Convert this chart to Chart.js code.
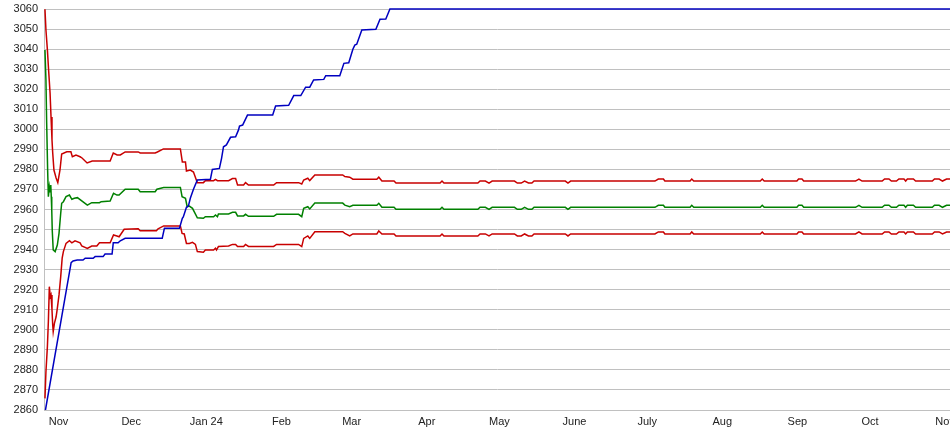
<!DOCTYPE html>
<html>
<head>
<meta charset="utf-8">
<script src="https://cdn.jsdelivr.net/npm/chart.js@4"></script>
<style>
body { margin: 0; background: #fff; overflow: hidden; }
#wrap { width: 950px; height: 435px; }
</style>
</head>
<body>
<div id="wrap"><canvas id="myChart"></canvas></div>
<script>
// x values are days counted from 26 Oct 2023
var monthDays = [6, 36, 67, 98, 127, 158, 188, 219, 249, 280, 311, 341, 372];
var monthLabels = ['Nov', 'Dec', 'Jan 24', 'Feb', 'Mar', 'Apr', 'May', 'June', 'July', 'Aug', 'Sep', 'Oct', 'Nov'];

var blueDays = [0.6, 11.2, 12.0, 13.7, 16.1, 17.0, 20.3, 21.1, 24.4, 25.2, 28.1, 28.6, 30.6, 31.5, 33.5, 48.8, 49.7, 55.9, 57.1, 57.5,
    58.8, 59.6, 60.4, 61.7, 63.3, 68.7, 69.5, 72.4, 73.3, 74.1, 75.3, 77.0, 79.1, 80.3, 80.7, 82.0, 84.0, 94.4, 95.6, 101.0,
    103.1, 106.0, 108.0, 109.7, 111.3, 115.5, 116.3, 122.1, 123.8, 125.8, 127.5, 128.3, 129.1, 131.2, 137.0, 138.7, 141.1, 142.8, 375];
var blueVals = [2860, 2933.5, 2934.3, 2934.8, 2934.8, 2935.7, 2935.7, 2936.5, 2936.5, 2937.8, 2937.8, 2943.4, 2943.4, 2944.4, 2945.6, 2945.6, 2950.6, 2950.6, 2955.6, 2956.3,
    2961.1, 2961.7, 2965.6, 2970.1, 2974.7, 2975.1, 2980.0, 2980.5, 2985.5, 2991.3, 2992.2, 2996.0, 2996.3, 2999.7, 3001.6, 3002.1, 3007.1, 3007.1, 3011.6, 3012.0,
    3016.8, 3016.8, 3021.0, 3021.0, 3024.6, 3024.9, 3026.7, 3026.7, 3032.9, 3033.2, 3039.9, 3042.0, 3042.4, 3049.5, 3049.9, 3054.9, 3055.0, 3060, 3060];

var upperDays = [0.4, 0.8, 1.4, 1.9, 2.5, 2.9, 3.3, 3.6, 4.1, 5.0, 5.7, 6.6, 7.3, 9.4, 11.1, 11.7, 13.2, 14.9, 15.7, 17.8,
    19.9, 27.3, 28.6, 30.2, 31.5, 33.5, 38.9, 39.7, 45.9, 46.8, 49.3, 56.3, 57.1, 58.4, 58.8, 60.4, 61.7, 63.3, 65.8, 66.6,
    70.0, 70.8, 71.6, 76.2, 77.8, 79.1, 79.9, 82.4, 83.2, 84.4, 94.8, 96.0, 105.1, 106.4, 107.2, 108.9, 109.7, 111.8, 123.3, 124.2,
    126.2, 127.5, 137.4, 138.2, 139.5, 144.5, 145.3];
var upperVals = [3059.9, 3049.5, 3039.6, 3029.6, 3018.1, 3006.1, 2994.7, 2988.2, 2979.7, 2975.7, 2973.4, 2979.7, 2987.7, 2988.8, 2988.8, 2986.3, 2987.2, 2986.3, 2985.7, 2983.2,
    2984.2, 2984.2, 2988.2, 2987.2, 2987.2, 2988.7, 2988.7, 2988.2, 2988.2, 2988.7, 2990.2, 2990.2, 2983.7, 2983.7, 2979.2, 2979.7, 2978.7, 2973.4, 2973.4, 2974.4,
    2974.4, 2975.0, 2974.4, 2974.4, 2975.4, 2975.4, 2972.2, 2972.2, 2973.4, 2972.2, 2972.2, 2973.4, 2973.4, 2972.7, 2974.7, 2975.6, 2974.4, 2977.2, 2977.2, 2976.4,
    2976.1, 2975.1, 2975.1, 2976.1, 2974.2, 2974.2, 2973.2];

var greenDays = [0.4, 0.8, 1.1, 1.5, 1.8, 2.2, 2.5, 2.8, 3.0, 3.2, 3.4, 3.8, 4.6, 5.5, 6.2, 6.9, 7.3, 8.0, 9.1, 10.5,
    11.5, 12.5, 13.8, 16.0, 17.9, 19.7, 22.9, 23.6, 27.3, 28.7, 30.1, 31.0, 33.5, 38.9, 39.7, 45.9, 46.6, 49.4, 56.3, 57.0,
    58.4, 59.1, 60.0, 61.3, 63.3, 65.8, 66.6, 70.0, 70.8, 71.6, 72.0, 76.2, 77.8, 79.1, 79.9, 82.4, 83.2, 84.4, 94.8, 96.0,
    105.1, 106.4, 107.2, 108.9, 109.7, 111.8, 123.3, 124.2, 126.2, 127.5, 137.4, 138.2, 139.5, 144.5, 145.3];
var greenVals = [3039.6, 3024.6, 3003.1, 2979.7, 2966.4, 2971.4, 2968.9, 2972.2, 2966.4, 2959.8, 2949.8, 2939.8, 2939.0, 2942.3, 2948.1, 2958.1, 2963.1, 2963.9, 2966.4, 2967.2,
    2965.1, 2965.6, 2965.9, 2963.9, 2962.2, 2963.4, 2963.4, 2963.9, 2964.2, 2968.1, 2967.2, 2967.2, 2970.1, 2970.1, 2968.9, 2968.9, 2970.1, 2971.0, 2971.0, 2966.4,
    2965.6, 2961.4, 2961.7, 2960.6, 2955.9, 2955.6, 2956.4, 2956.4, 2957.3, 2956.4, 2957.8, 2957.8, 2958.6, 2958.6, 2956.8, 2956.8, 2957.6, 2956.6, 2956.6, 2957.6,
    2957.6, 2956.4, 2960.6, 2961.4, 2960.3, 2963.2, 2963.2, 2962.2, 2961.4, 2962.1, 2962.1, 2963.1, 2961.1, 2961.1, 2960.1];

var lowerDays = [0.4, 0.8, 1.4, 1.8, 2.2, 2.6, 2.9, 3.3, 3.6, 3.8, 4.3, 5.0, 5.5, 6.2, 6.9, 7.5, 8.0, 9.1, 10.5, 11.5,
    12.8, 14.9, 15.6, 17.9, 19.7, 21.8, 22.9, 27.3, 28.7, 30.1, 31.0, 33.1, 38.9, 39.7, 46.4, 47.1, 49.4, 56.3, 57.0, 57.9,
    58.8, 60.0, 61.3, 62.5, 63.3, 65.8, 66.6, 70.0, 70.8, 71.2, 72.0, 76.2, 77.8, 79.1, 79.9, 82.4, 83.2, 84.4, 94.8, 96.0,
    105.1, 106.4, 107.2, 108.9, 109.7, 111.8, 123.3, 124.2, 126.2, 127.5, 137.4, 138.2, 139.5, 144.5, 145.3];
var lowerVals = [2865.8, 2879.1, 2891.6, 2904.0, 2921.5, 2916.5, 2917.4, 2909.9, 2902.4, 2899.1, 2903.2, 2906.5, 2910.7, 2917.4, 2926.5, 2935.7, 2939.0, 2943.1, 2944.4, 2943.4,
    2944.4, 2943.4, 2941.8, 2940.6, 2941.8, 2941.8, 2943.4, 2943.4, 2947.3, 2946.8, 2946.4, 2950.1, 2950.4, 2949.4, 2949.4, 2950.4, 2951.8, 2951.8, 2948.1, 2947.8,
    2943.1, 2943.1, 2943.6, 2942.6, 2939.0, 2938.7, 2939.8, 2939.8, 2940.7, 2939.8, 2941.5, 2941.8, 2942.6, 2942.6, 2941.5, 2941.5, 2942.6, 2941.6, 2941.6, 2942.6,
    2942.6, 2941.5, 2945.6, 2946.8, 2945.6, 2948.9, 2948.9, 2948.1, 2946.8, 2947.8, 2947.8, 2949.3, 2947.8, 2947.8, 2946.8];

// second half, the three bands move together
var tailDays = [163.5, 164.3, 165.1, 179.1, 180.0, 182.2, 183.7, 185.0, 194.2, 195.4, 197.0, 198.4, 200.0, 201.4, 202.3, 215.2, 216.3, 217.4, 252.2, 253.6,
    255.7, 256.3, 266.7, 267.4, 268.2, 295.7, 296.5, 297.3, 310.8, 311.5, 312.9, 313.6, 335.0, 336.4, 337.7, 346.0, 347.0, 348.8, 349.8, 351.9,
    352.9, 355.0, 355.7, 356.4, 358.9, 359.8, 366.7, 367.6, 369.5, 370.9, 372.6, 375.0];
var upperTail = [2973.2, 2974.2, 2973.2, 2973.2, 2974.2, 2974.2, 2973.2, 2974.2, 2974.2, 2973.2, 2973.2, 2974.2, 2973.2, 2973.2, 2974.2, 2974.2, 2973.2, 2974.2, 2974.2, 2975.2,
    2975.2, 2974.2, 2974.2, 2975.2, 2974.2, 2974.2, 2975.2, 2974.2, 2974.2, 2975.2, 2975.2, 2974.2, 2974.2, 2975.2, 2974.2, 2974.2, 2975.2, 2975.2, 2974.2, 2974.2,
    2975.2, 2975.2, 2974.2, 2975.2, 2975.2, 2974.2, 2974.2, 2975.2, 2975.2, 2974.2, 2975.2, 2975.2];
var greenTail = [2960.1, 2961.1, 2960.1, 2960.1, 2961.1, 2961.1, 2960.1, 2961.1, 2961.1, 2960.1, 2960.1, 2961.1, 2960.1, 2960.1, 2961.1, 2961.1, 2960.1, 2961.1, 2961.1, 2962.1,
    2962.1, 2961.1, 2961.1, 2962.1, 2961.1, 2961.1, 2962.1, 2961.1, 2961.1, 2962.1, 2962.1, 2961.1, 2961.1, 2962.1, 2961.1, 2961.1, 2962.1, 2962.1, 2961.1, 2961.1,
    2962.1, 2962.1, 2961.1, 2962.1, 2962.1, 2961.1, 2961.1, 2962.1, 2962.1, 2961.1, 2962.1, 2962.1];
var lowerTail = [2946.8, 2947.8, 2946.8, 2946.8, 2947.8, 2947.8, 2946.8, 2947.8, 2947.8, 2946.8, 2946.8, 2947.8, 2946.8, 2946.8, 2947.8, 2947.8, 2946.8, 2947.8, 2947.8, 2948.8,
    2948.8, 2947.8, 2947.8, 2948.8, 2947.8, 2947.8, 2948.8, 2947.8, 2947.8, 2948.8, 2948.8, 2947.8, 2947.8, 2948.8, 2947.8, 2947.8, 2948.8, 2948.8, 2947.8, 2947.8,
    2948.8, 2948.8, 2947.8, 2948.8, 2948.8, 2947.8, 2947.8, 2948.8, 2948.8, 2947.8, 2948.8, 2948.8];

function toPoints(xs, ys) {
    var out = [];
    for (var i = 0; i < xs.length; i++) {
        out.push({x: xs[i], y: ys[i]});
    }
    return out;
}

var tickFont = {family: "'Liberation Sans', Arial, sans-serif", size: 11};

var ctx = document.getElementById('myChart').getContext('2d');
var chart = new Chart(ctx, {
    type: 'line',
    data: {
        datasets: [{
            label: 'Price',
            data: toPoints(blueDays, blueVals),
            borderColor: '#0000c0',
            clip: {left: 0, top: 4, right: 0, bottom: 0}
        }, {
            label: 'Upper',
            data: toPoints(upperDays.concat(tailDays), upperVals.concat(upperTail)),
            borderColor: '#c80000'
        }, {
            label: 'Middle',
            data: toPoints(greenDays.concat(tailDays), greenVals.concat(greenTail)),
            borderColor: '#008000'
        }, {
            label: 'Lower',
            data: toPoints(lowerDays.concat(tailDays), lowerVals.concat(lowerTail)),
            borderColor: '#c80000'
        }]
    },
    options: {
        responsive: true,
        maintainAspectRatio: false,
        animation: false,
        layout: {padding: {top: 9}},
        plugins: {legend: {display: false}, tooltip: {enabled: false}},
        elements: {
            point: {radius: 0},
            line: {borderWidth: 1.5, tension: 0, fill: false}
        },
        scales: {
            x: {
                type: 'linear',
                min: 0,
                max: 374,
                grid: {display: false, drawTicks: false},
                border: {display: false},
                afterBuildTicks: function(s) {
                    s.ticks = monthDays.map(function(d) { return {value: d}; });
                },
                afterFit: function(s) {
                    s.paddingLeft = 0;
                    s.paddingRight = 0;
                    s.height = 25;
                },
                ticks: {
                    autoSkip: false,
                    maxRotation: 0,
                    padding: 5,
                    color: '#222',
                    font: tickFont,
                    callback: function(v) { return monthLabels[monthDays.indexOf(v)]; }
                }
            },
            y: {
                min: 2860,
                max: 3060,
                afterFit: function(s) {
                    s.width = 44;
                    s.paddingTop = 0;
                    s.paddingBottom = 0;
                },
                grid: {color: '#c0c0c0', drawTicks: false},
                border: {display: true, color: '#c0c0c0'},
                ticks: {
                    stepSize: 10,
                    padding: 6,
                    color: '#222',
                    font: tickFont,
                    callback: function(v) { return String(v); }
                }
            }
        }
    }
});
</script>
</body>
</html>
